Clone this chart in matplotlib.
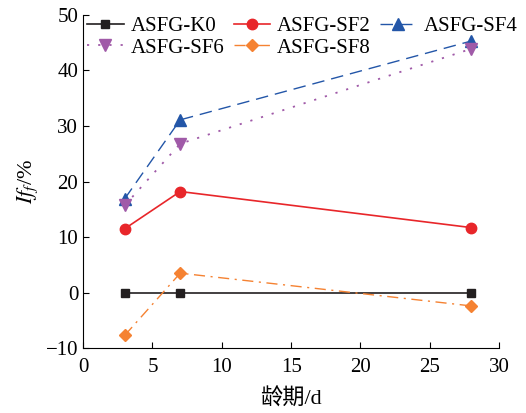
import matplotlib.pyplot as plt

plt.rcParams['font.family'] = ['Liberation Serif', 'Noto Sans CJK SC']
plt.rcParams['mathtext.fontset'] = 'stix'

days = [3, 7, 28]
k0 = [0, 0, 0]
sf2 = [11.5, 18.2, 11.7]
sf4 = [16.9, 31.1, 45.3]
sf6 = [15.7, 26.8, 43.9]
sf8 = [-7.7, 3.5, -2.4]

fig = plt.figure(figsize=(5.26, 4.13), dpi=100)
ax = fig.add_axes([0.158, 0.157, 0.791, 0.807])

h_k0, = ax.plot(days, k0, color='#231f20', marker='s', ms=6, lw=1.2, label='ASFG-K0')
h_sf2, = ax.plot(days, sf2, color='#e8262a', marker='o', ms=7.5, lw=1.2, label='ASFG-SF2')
h_sf4, = ax.plot(days, sf4, color='#2356a8', marker='^', ms=8.5, lw=1.0, dashes=(9, 5), label='ASFG-SF4')
h_sf6, = ax.plot(days, sf6, color='#a05aa8', marker='v', ms=8.5, lw=1.3, dashes=(1.2, 5), label='ASFG-SF6')
h_sf8, = ax.plot(days, sf8, color='#f58232', marker='D', ms=6.5, lw=1.0, dashes=(8, 4, 1.5, 4), label='ASFG-SF8')

ax.set_xlim(0, 30)
ax.set_ylim(-10, 50)
ax.set_xticks([0, 5, 10, 15, 20, 25, 30])
ax.set_yticks([-10, 0, 10, 20, 30, 40, 50])
ax.spines['top'].set_visible(False)
ax.spines['right'].set_visible(False)
ax.tick_params(direction='in', labelsize=15, length=4)
ax.tick_params(axis='x', pad=7)
ax.set_xlabel('龄期/d', fontsize=16, labelpad=8)
ax.set_ylabel('$If_f$/%', fontsize=16)

# row-wise legend order
handles = [h_k0, h_sf6, h_sf2, h_sf8, h_sf4]
ax.legend(handles=handles, labels=[h.get_label() for h in handles],
          loc='upper left', ncol=3, frameon=False, fontsize=15,
          handlelength=1.75, handletextpad=0.33, columnspacing=0.45,
          labelspacing=0.1, borderpad=0, borderaxespad=0,
          bbox_to_anchor=(0.01, 0.995))

fig.savefig('out.png')
